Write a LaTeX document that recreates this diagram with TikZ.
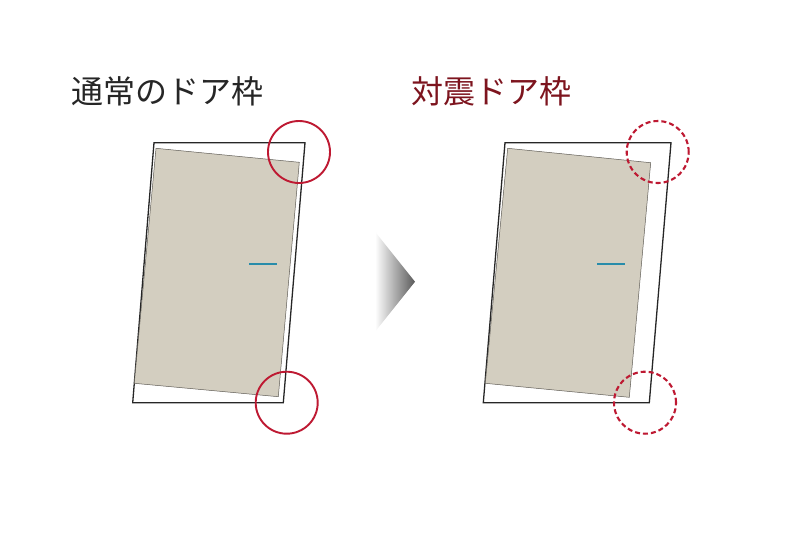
\documentclass[tikz,border=0pt]{standalone}
\usepackage{fontspec}
\newfontfamily\jpfont{Noto Sans CJK JP}
\usetikzlibrary{calc}
\definecolor{doorgrey}{RGB}{211,206,192}
\definecolor{doorline}{RGB}{95,92,85}
\definecolor{markred}{RGB}{190,25,50}
\definecolor{darkred}{RGB}{125,20,30}
\definecolor{handleblue}{RGB}{40,140,170}
\tikzset{
	framestyle/.style={draw=black!85, line width=1.3pt, fill=white},
	doorstyle/.style={draw=doorline, line width=0.5pt, fill=doorgrey},
	handlestyle/.style={draw=handleblue, line width=1.2pt},
	ringstyle/.style={circle, draw=markred, line width=1.9pt, minimum size=62pt, inner sep=0pt},
	dashringstyle/.style={ringstyle, line width=2.1pt, dash pattern=on 5pt off 3pt},
	titlestyle/.style={anchor=west, inner sep=0pt, font=\jpfont\fontsize{32}{36}\selectfont}
}
\begin{document}
\begin{tikzpicture}[x=1pt, y=-1pt]
	\useasboundingbox[fill=white] (0,0) rectangle (800,552);
	% titles
	\node[titlestyle, text=black!85] (plain) at (71,91) {通常のドア枠};
	\node[titlestyle, text=darkred] (quake) at (411,91) {対震ドア枠};
	% left: ordinary frame
	\draw[framestyle] (154,142.7) -- (305,142.7) -- (283.3,402.7) -- (132.7,402.7) -- cycle;
	\draw[doorstyle] (156,148.3) -- (299.3,162.3) -- (278.3,396.7) -- (134.3,383.3) -- cycle;
	\coordinate (lh1) at (249.3,264);
	\coordinate (lh2) at (276.7,264);
	\draw[handlestyle] (lh1) -- (lh2);
	\node[ringstyle] (ltop) at (299,152) {};
	\node[ringstyle] (lbot) at (286.7,402.7) {};
	% arrow
	\shade[left color=white, right color=black!65] (375,231.7) -- (415,281.7) -- (375,331.7) -- cycle;
	% right: anti-quake frame
	\draw[framestyle] (505,142.7) -- (671,142.7) -- (649.3,402.7) -- (483.3,402.7) -- cycle;
	\draw[doorstyle] (507.7,148.3) -- (650.7,162.7) -- (629.3,397.3) -- (485.3,383.3) -- cycle;
	\coordinate (rh1) at (597.3,264);
	\coordinate (rh2) at (625,264);
	\draw[handlestyle] (rh1) -- (rh2);
	\node[dashringstyle] (rtop) at (657.7,152) {};
	\node[dashringstyle] (rbot) at (645,402.7) {};
\end{tikzpicture}
\end{document}
